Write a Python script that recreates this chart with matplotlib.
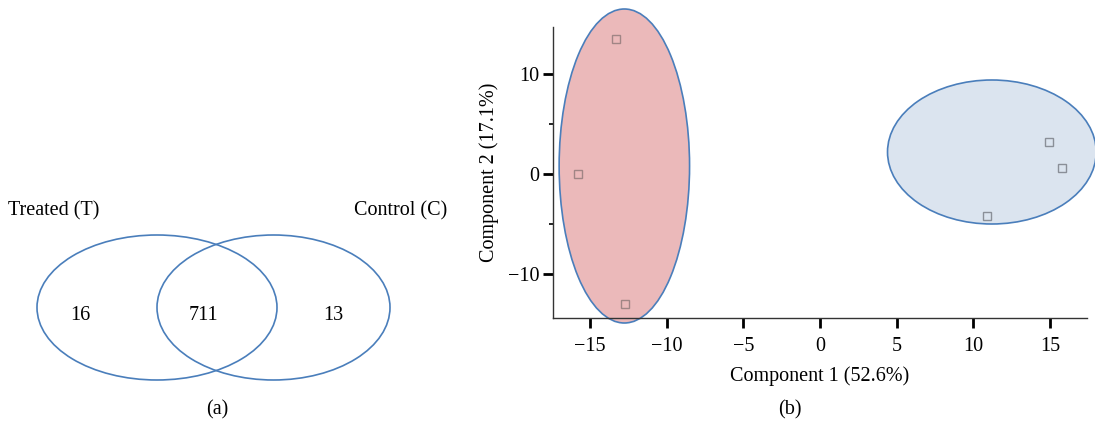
import numpy as np
import matplotlib.pyplot as plt
from matplotlib.patches import Ellipse

plt.rcParams['font.family'] = ['Liberation Serif', 'DejaVu Serif']

# Venn counts
venn_labels = ['Treated (T)', 'Control (C)']
venn_counts = [16, 711, 13]  # T only, both, C only

# PCA scores
treated_x = [-13.3, -15.8, -12.7]
treated_y = [13.5, 0.0, -13.0]
control_x = [14.9, 15.8, 10.9]
control_y = [3.2, 0.6, -4.2]
pc1_label = 'Component 1 (52.6%)'
pc2_label = 'Component 2 (17.1%)'

edge = '#4a7ebb'
fs = 14.5

fig = plt.figure(figsize=(10.95, 4.30), dpi=100)

# (a) Venn diagram, drawn in pixel-like coordinates
ax = fig.add_axes([0, 0, 480 / 1095, 1])
ax.set_xlim(0, 480)
ax.set_ylim(430, 0)
ax.axis('off')
ax.add_patch(Ellipse((157, 307.5), 240, 145, fill=False, ec=edge, lw=1.2))
ax.add_patch(Ellipse((273.5, 307.5), 233, 145, fill=False, ec=edge, lw=1.2))
ax.text(8, 211, venn_labels[0], fontsize=fs, ha='left', va='center')
ax.text(447, 211, venn_labels[1], fontsize=fs, ha='right', va='center')
for xpos, c in zip([80, 203, 333], venn_counts):
    ax.text(xpos, 316, str(c), fontsize=fs, ha='center', va='center')
ax.text(217, 410, '(a)', fontsize=fs, ha='center', va='center')

# (b) PCA score plot
ax2 = fig.add_axes([553 / 1095, 112 / 430, 534 / 1095, 291 / 430])
ax2.set_xlim(-17.4, 17.4)
ax2.set_ylim(-14.4, 14.7)
ax2.add_patch(Ellipse((-12.75, 0.8), 8.5, 31.4, fc='#ebb9ba', ec=edge,
                      lw=1.2, clip_on=False, zorder=1))
ax2.add_patch(Ellipse((11.2, 2.2), 13.6, 14.4, fc='#dbe4ef', ec=edge,
                      lw=1.2, clip_on=False, zorder=1))
ax2.plot(treated_x, treated_y, 's', mfc='none', mec='#a08585', ms=6,
         mew=1.0, zorder=3)
ax2.plot(control_x, control_y, 's', mfc='none', mec='#8a8f98', ms=6,
         mew=1.0, zorder=3)
for s in ['top', 'right']:
    ax2.spines[s].set_visible(False)
for s in ['left', 'bottom']:
    ax2.spines[s].set_linewidth(1.0)
    ax2.spines[s].set_color('#333333')
ax2.set_xticks([-15, -10, -5, 0, 5, 10, 15])
ax2.set_xticklabels(['\u221215', '\u221210', '\u22125', '0', '5', '10', '15'])
ax2.set_yticks([-10, 0, 10])
ax2.set_yticklabels(['\u221210', '0', '10'])
ax2.set_yticks([-5, 5], minor=True)
ax2.tick_params(axis='both', which='major', direction='out', length=7,
                width=2.0, labelsize=fs)
ax2.tick_params(axis='x', which='major', pad=7)
ax2.tick_params(axis='y', which='major', pad=3)
ax2.tick_params(axis='y', which='minor', direction='out', length=3, width=1.2)
ax2.set_xlabel(pc1_label, fontsize=fs, labelpad=7)
ax2.set_ylabel(pc2_label, fontsize=fs, labelpad=6)
fig.text(790 / 1095, 1 - 410 / 430, '(b)', fontsize=fs, ha='center', va='center')

fig.savefig('out.png', dpi=100)
